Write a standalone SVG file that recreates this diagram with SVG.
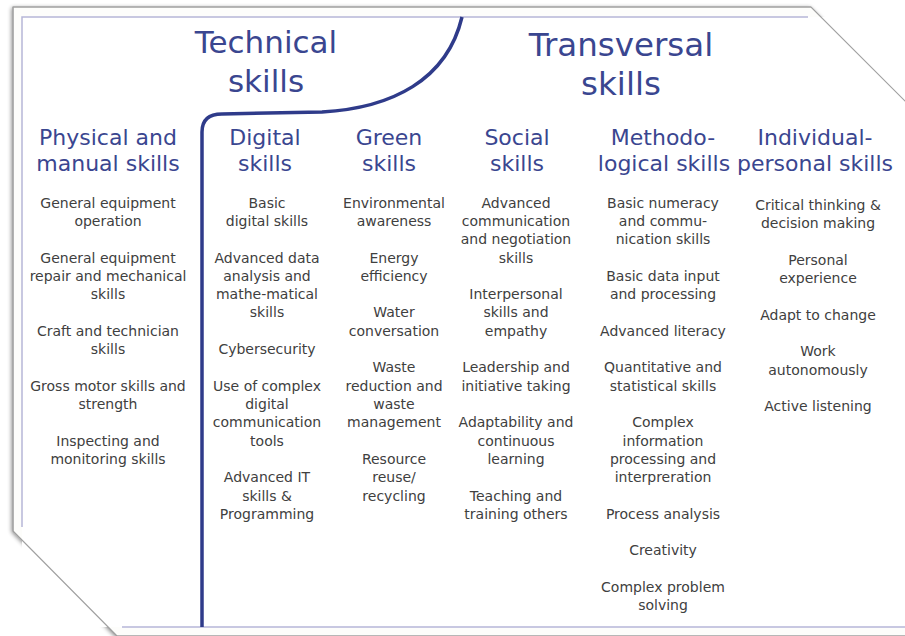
<svg xmlns="http://www.w3.org/2000/svg" width="905" height="636" viewBox="0 0 905 636">
<defs>
<filter id="sh" x="-5%" y="-5%" width="110%" height="110%">
<feGaussianBlur in="SourceAlpha" stdDeviation="2"/>
<feOffset dx="-1" dy="1" result="b"/>
<feComponentTransfer><feFuncA type="linear" slope="0.45"/></feComponentTransfer>
<feMerge><feMergeNode/><feMergeNode in="SourceGraphic"/></feMerge>
</filter>
<style>
.h{font-family:"DejaVu Sans","Verdana",sans-serif;fill:#3a4690;text-anchor:middle}
.big{font-size:31px}
.big2{font-size:32.5px}
.hd{font-size:22px}
.t{font-family:"DejaVu Sans","Verdana",sans-serif;font-size:14px;fill:#404040;text-anchor:middle}
.thin{stroke:#b6b6d8;stroke-width:1.5;fill:none}
</style>
</defs>
<rect width="905" height="636" fill="#ffffff"/>
<g id="frame">
<polygon points="13,7 811,7 912,108 912,636 117,636 13,531" fill="#fdfdfb" stroke="#a0a0a0" stroke-width="1" filter="url(#sh)"/>
<rect x="22" y="17" width="883" height="610" fill="#ffffff"/>
<polygon points="13,7 811,7 912,108 912,636 117,636 13,531" fill="none" stroke="#a0a0a0" stroke-width="1.2"/>
<path class="thin" d="M22,527 V17 H808"/>
<path class="thin" d="M122,627 H905"/>
</g>
<g id="divider">
<path d="M202,627 V132 Q202,114 222,114 L322,112 C392,108 447,80 462,17" fill="none" stroke="#2f3b8a" stroke-width="3.5"/>
</g>
<g id="technical">
<text class="h big" x="266" y="53">Technical</text>
<text class="h big" x="266" y="92">skills</text>
</g>
<g id="transversal">
<text class="h big2" x="621" y="56">Transversal</text>
<text class="h big2" x="621" y="95">skills</text>
</g>
<g id="physical">
<text class="h hd" x="108" y="145">Physical and</text>
<text class="h hd" x="108" y="171">manual skills</text>
<text class="t" x="108" y="208">General equipment</text>
<text class="t" x="108" y="226">operation</text>
<text class="t" x="108" y="263">General equipment</text>
<text class="t" x="108" y="281">repair and mechanical</text>
<text class="t" x="108" y="299">skills</text>
<text class="t" x="108" y="336">Craft and technician</text>
<text class="t" x="108" y="354">skills</text>
<text class="t" x="108" y="391">Gross motor skills and</text>
<text class="t" x="108" y="409">strength</text>
<text class="t" x="108" y="446">Inspecting and</text>
<text class="t" x="108" y="464">monitoring skills</text>
</g>
<g id="digital">
<text class="h hd" x="265" y="145">Digital</text>
<text class="h hd" x="265" y="171">skills</text>
<text class="t" x="267" y="208">Basic</text>
<text class="t" x="267" y="226">digital skills</text>
<text class="t" x="267" y="263">Advanced data</text>
<text class="t" x="267" y="281">analysis and</text>
<text class="t" x="267" y="299">mathe-matical</text>
<text class="t" x="267" y="317">skills</text>
<text class="t" x="267" y="354">Cybersecurity</text>
<text class="t" x="267" y="391">Use of complex</text>
<text class="t" x="267" y="409">digital</text>
<text class="t" x="267" y="427">communication</text>
<text class="t" x="267" y="446">tools</text>
<text class="t" x="267" y="482">Advanced IT</text>
<text class="t" x="267" y="501">skills &amp;</text>
<text class="t" x="267" y="519">Programming</text>
</g>
<g id="green">
<text class="h hd" x="389" y="145">Green</text>
<text class="h hd" x="389" y="171">skills</text>
<text class="t" x="394" y="208">Environmental</text>
<text class="t" x="394" y="226">awareness</text>
<text class="t" x="394" y="263">Energy</text>
<text class="t" x="394" y="281">efficiency</text>
<text class="t" x="394" y="317">Water</text>
<text class="t" x="394" y="336">conversation</text>
<text class="t" x="394" y="372">Waste</text>
<text class="t" x="394" y="391">reduction and</text>
<text class="t" x="394" y="409">waste</text>
<text class="t" x="394" y="427">management</text>
<text class="t" x="394" y="464">Resource</text>
<text class="t" x="394" y="482">reuse/</text>
<text class="t" x="394" y="501">recycling</text>
</g>
<g id="social">
<text class="h hd" x="517" y="145">Social</text>
<text class="h hd" x="517" y="171">skills</text>
<text class="t" x="516" y="208">Advanced</text>
<text class="t" x="516" y="226">communication</text>
<text class="t" x="516" y="244">and negotiation</text>
<text class="t" x="516" y="263">skills</text>
<text class="t" x="516" y="299">Interpersonal</text>
<text class="t" x="516" y="317">skills and</text>
<text class="t" x="516" y="336">empathy</text>
<text class="t" x="516" y="372">Leadership and</text>
<text class="t" x="516" y="391">initiative taking</text>
<text class="t" x="516" y="427">Adaptability and</text>
<text class="t" x="516" y="446">continuous</text>
<text class="t" x="516" y="464">learning</text>
<text class="t" x="516" y="501">Teaching and</text>
<text class="t" x="516" y="519">training others</text>
</g>
<g id="methodological">
<text class="h hd" x="663" y="145">Methodo-</text>
<text class="h hd" x="664" y="171">logical skills</text>
<text class="t" x="663" y="208">Basic numeracy</text>
<text class="t" x="663" y="226">and commu-</text>
<text class="t" x="663" y="244">nication skills</text>
<text class="t" x="663" y="281">Basic data input</text>
<text class="t" x="663" y="299">and processing</text>
<text class="t" x="663" y="336">Advanced literacy</text>
<text class="t" x="663" y="372">Quantitative and</text>
<text class="t" x="663" y="391">statistical skills</text>
<text class="t" x="663" y="427">Complex</text>
<text class="t" x="663" y="446">information</text>
<text class="t" x="663" y="464">processing and</text>
<text class="t" x="663" y="482">interpreration</text>
<text class="t" x="663" y="519">Process analysis</text>
<text class="t" x="663" y="555">Creativity</text>
<text class="t" x="663" y="592">Complex problem</text>
<text class="t" x="663" y="610">solving</text>
</g>
<g id="individual">
<text class="h hd" x="815" y="145">Individual-</text>
<text class="h hd" x="815" y="171">personal skills</text>
<text class="t" x="818" y="210">Critical thinking &amp;</text>
<text class="t" x="818" y="228">decision making</text>
<text class="t" x="818" y="265">Personal</text>
<text class="t" x="818" y="283">experience</text>
<text class="t" x="818" y="320">Adapt to change</text>
<text class="t" x="818" y="356">Work</text>
<text class="t" x="818" y="375">autonomously</text>
<text class="t" x="818" y="411">Active listening</text>
</g>
</svg>
